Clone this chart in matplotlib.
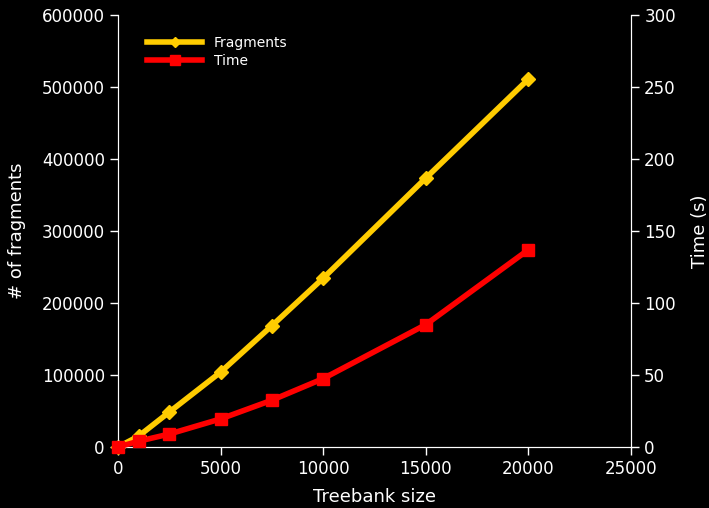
import numpy as np
import matplotlib.pyplot as plt

treebank = [0, 1000, 2500, 5000, 7500, 10000, 15000, 20000]
fragments = [0, 15000, 48500, 104000, 168500, 234500, 373500, 511000]
time_s = [0, 4, 9, 19.5, 32.5, 47.5, 85, 137]

fig = plt.figure(figsize=(7.09, 5.08), dpi=100, facecolor='black')
ax1 = fig.add_axes([118/709, 1-447/508, (631-118)/709, (447-15)/508])
ax1.set_facecolor('black')
ax2 = ax1.twinx()

l1, = ax1.plot(treebank, fragments, color='#ffcc00', lw=4, marker='D', ms=7,
               label='Fragments', clip_on=False, zorder=3)
l2, = ax2.plot(treebank, time_s, color='#ff0000', lw=4, marker='s', ms=9,
               label='Time', clip_on=False, zorder=4)

ax1.set_xlim(0, 25000)
ax1.set_ylim(0, 600000)
ax2.set_ylim(0, 300)
ax1.set_xticks(np.arange(0, 25001, 5000))
ax1.set_yticks(np.arange(0, 600001, 100000))
ax2.set_yticks(np.arange(0, 301, 50))

ax1.set_xlabel('Treebank size', color='white', fontsize=13, labelpad=7)
ax1.set_ylabel('# of fragments', color='white', fontsize=13, labelpad=11)
ax2.set_ylabel('Time (s)', color='white', fontsize=13, labelpad=11)

for ax in (ax1, ax2):
    ax.tick_params(colors='white', labelsize=12, length=6, width=1)
    for side in ('left', 'right', 'bottom'):
        ax.spines[side].set_color('white')
    ax.spines['top'].set_visible(False)

leg = ax1.legend(handles=[l1, l2], loc='upper left', bbox_to_anchor=(0.032, 0.981),
                 frameon=False, fontsize=10, labelspacing=0.32, handlelength=4,
                 markerscale=0.8)
for t in leg.get_texts():
    t.set_color('white')

fig.savefig('out.png', dpi=100, facecolor='black')
